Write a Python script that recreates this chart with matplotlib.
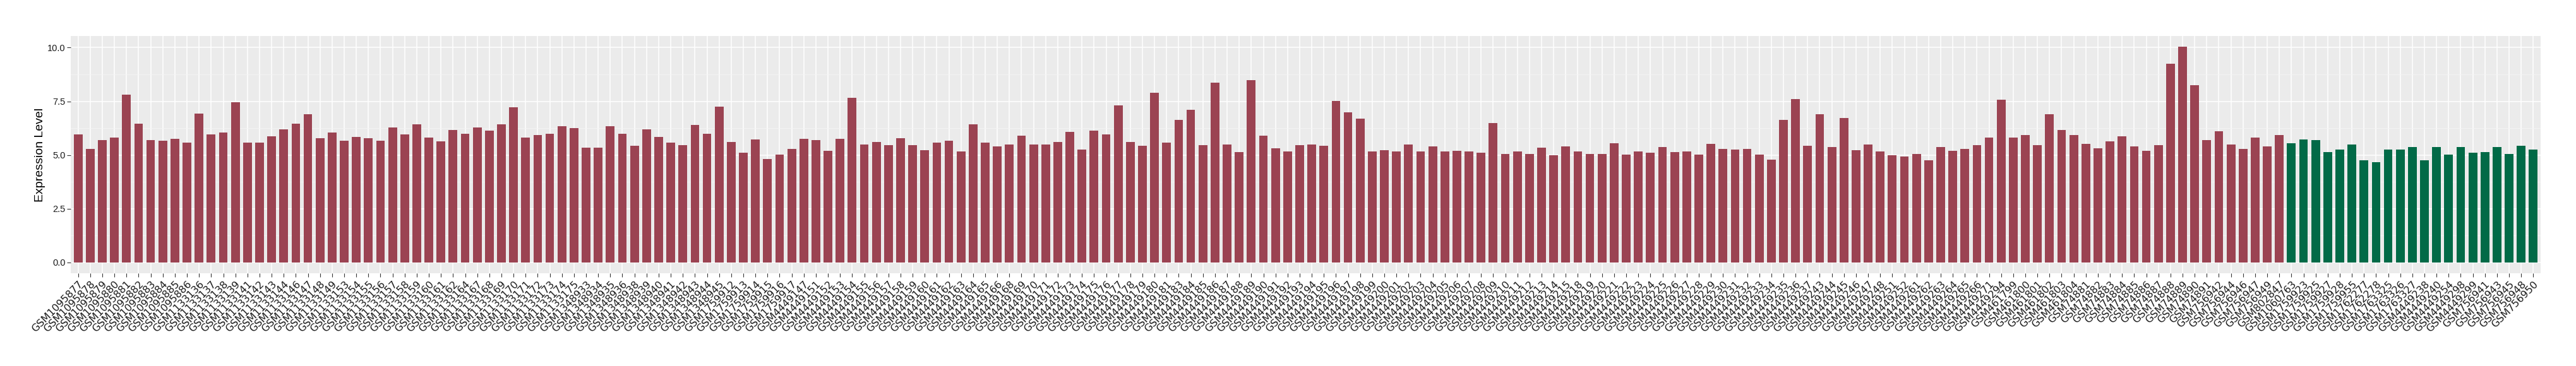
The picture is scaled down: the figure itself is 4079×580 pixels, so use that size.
import matplotlib
matplotlib.use("Agg")
import matplotlib.pyplot as plt
import numpy as np

# sample ids, tumour group first, then normal group
tumor_samples = [
    "GSM1095877", "GSM1095878", "GSM1095879", "GSM1095880", "GSM1095881", "GSM1095882",
    "GSM1095883", "GSM1095884", "GSM1095885", "GSM1095886", "GSM1133136", "GSM1133137",
    "GSM1133138", "GSM1133139", "GSM1133141", "GSM1133142", "GSM1133143", "GSM1133144",
    "GSM1133146", "GSM1133147", "GSM1133148", "GSM1133149", "GSM1133153", "GSM1133154",
    "GSM1133155", "GSM1133156", "GSM1133157", "GSM1133158", "GSM1133159", "GSM1133160",
    "GSM1133161", "GSM1133162", "GSM1133164", "GSM1133167", "GSM1133168", "GSM1133169",
    "GSM1133170", "GSM1133171", "GSM1133172", "GSM1133173", "GSM1133174", "GSM1133175",
    "GSM1348933", "GSM1348934", "GSM1348935", "GSM1348936", "GSM1348938", "GSM1348939",
    "GSM1348940", "GSM1348941", "GSM1348942", "GSM1348943", "GSM1348944", "GSM1348945",
    "GSM1759912", "GSM1759913", "GSM1759914", "GSM1759915", "GSM1759916", "GSM1759917",
    "GSM4449147", "GSM4449151", "GSM4449152", "GSM4449153", "GSM4449154", "GSM4449155",
    "GSM4449156", "GSM4449157", "GSM4449158", "GSM4449159", "GSM4449160", "GSM4449161",
    "GSM4449162", "GSM4449163", "GSM4449164", "GSM4449165", "GSM4449166", "GSM4449168",
    "GSM4449169", "GSM4449170", "GSM4449171", "GSM4449172", "GSM4449173", "GSM4449174",
    "GSM4449175", "GSM4449176", "GSM4449177", "GSM4449178", "GSM4449179", "GSM4449180",
    "GSM4449181", "GSM4449183", "GSM4449184", "GSM4449185", "GSM4449186", "GSM4449187",
    "GSM4449188", "GSM4449189", "GSM4449190", "GSM4449191", "GSM4449192", "GSM4449193",
    "GSM4449194", "GSM4449195", "GSM4449196", "GSM4449197", "GSM4449198", "GSM4449199",
    "GSM4449200", "GSM4449201", "GSM4449202", "GSM4449203", "GSM4449204", "GSM4449205",
    "GSM4449206", "GSM4449207", "GSM4449208", "GSM4449209", "GSM4449210", "GSM4449211",
    "GSM4449212", "GSM4449213", "GSM4449214", "GSM4449215", "GSM4449218", "GSM4449219",
    "GSM4449220", "GSM4449221", "GSM4449222", "GSM4449223", "GSM4449224", "GSM4449225",
    "GSM4449226", "GSM4449227", "GSM4449228", "GSM4449229", "GSM4449230", "GSM4449231",
    "GSM4449232", "GSM4449233", "GSM4449234", "GSM4449235", "GSM4449236", "GSM4449237",
    "GSM4449243", "GSM4449244", "GSM4449245", "GSM4449246", "GSM4449247", "GSM4449248",
    "GSM4449251", "GSM4449252", "GSM4449261", "GSM4449262", "GSM4449263", "GSM4449264",
    "GSM4449265", "GSM4449266", "GSM4449271", "GSM4449294", "GSM461799", "GSM461800",
    "GSM461801", "GSM461802", "GSM461803", "GSM461804", "GSM74881", "GSM74882",
    "GSM74883", "GSM74884", "GSM74885", "GSM74886", "GSM74887", "GSM74888",
    "GSM74889", "GSM74890", "GSM74891", "GSM756942", "GSM756944", "GSM756946",
    "GSM756947", "GSM756949", "GSM802847",
]
tumor_expr = [
    5.96, 5.29, 5.70, 5.82, 7.81, 6.46, 5.70, 5.67, 5.75, 5.58,
    6.93, 5.96, 6.05, 7.46, 5.58, 5.58, 5.87, 6.20, 6.46, 6.91,
    5.79, 6.05, 5.67, 5.84, 5.79, 5.67, 6.29, 5.96, 6.43, 5.82,
    5.64, 6.17, 5.99, 6.29, 6.13, 6.43, 7.22, 5.82, 5.93, 5.99,
    6.34, 6.25, 5.34, 5.34, 6.34, 5.99, 5.44, 6.20, 5.84, 5.58,
    5.46, 6.41, 5.99, 7.25, 5.61, 5.11, 5.73, 4.82, 5.03, 5.29,
    5.75, 5.70, 5.20, 5.75, 7.67, 5.49, 5.61, 5.46, 5.79, 5.46,
    5.23, 5.58, 5.67, 5.17, 6.43, 5.58, 5.41, 5.49, 5.91, 5.49,
    5.49, 5.61, 6.08, 5.26, 6.13, 5.96, 7.32, 5.61, 5.44, 7.90,
    5.58, 6.63, 7.11, 5.46, 8.37, 5.49, 5.14, 8.49, 5.91, 5.32,
    5.17, 5.46, 5.49, 5.44, 7.51, 6.99, 6.70, 5.17, 5.23, 5.17,
    5.49, 5.17, 5.41, 5.17, 5.20, 5.17, 5.11, 6.49, 5.05, 5.17,
    5.05, 5.34, 4.99, 5.41, 5.17, 5.05, 5.05, 5.55, 5.03, 5.17,
    5.11, 5.37, 5.14, 5.17, 5.03, 5.53, 5.29, 5.26, 5.29, 5.03,
    4.79, 6.63, 7.61, 5.44, 6.91, 5.37, 6.72, 5.23, 5.49, 5.17,
    4.99, 4.94, 5.05, 4.76, 5.37, 5.20, 5.29, 5.46, 5.82, 7.58,
    5.82, 5.93, 5.46, 6.91, 6.17, 5.93, 5.53, 5.32, 5.64, 5.87,
    5.41, 5.20, 5.46, 9.25, 10.04, 8.25, 5.70, 6.11, 5.49, 5.29,
    5.82, 5.41, 5.93,
]
normal_samples = [
    "GSM1060763", "GSM1759923", "GSM1759925", "GSM1759927", "GSM1759928", "GSM1759955",
    "GSM1762277", "GSM1762278", "GSM1763325", "GSM1763326", "GSM1763327", "GSM4449238",
    "GSM4449240", "GSM4449254", "GSM4449298", "GSM4449299", "GSM756941", "GSM756943",
    "GSM756945", "GSM756948", "GSM756950",
]
normal_expr = [
    5.55, 5.73, 5.70, 5.14, 5.26, 5.49, 4.76, 4.67, 5.26, 5.26,
    5.37, 4.76, 5.37, 5.03, 5.37, 5.11, 5.14, 5.37, 5.05, 5.44, 5.26,
]

tumor_color = "#9B4352"
normal_color = "#016A47"

samples = tumor_samples + normal_samples
expr = tumor_expr + normal_expr
colors = [tumor_color] * len(tumor_samples) + [normal_color] * len(normal_samples)
x = np.arange(len(samples))

fig = plt.figure(figsize=(40.8, 5.8), dpi=100)
ax = fig.add_axes([0.0275, 0.2534, 0.9585, 0.6483])

ax.set_facecolor("#EBEBEB")
for s in ax.spines.values():
    s.set_visible(False)

ax.bar(x, expr, width=0.72, color=colors, zorder=3)

ymax = max(expr)
pad = 0.05 * ymax
ax.set_ylim(-pad, ymax + pad)
ax.set_xlim(-0.6, len(samples) - 1 + 0.6)

ax.set_yticks([0, 2.5, 5, 7.5, 10])
ax.set_yticklabels(["0.0", "2.5", "5.0", "7.5", "10.0"])
ax.set_yticks([1.25, 3.75, 6.25, 8.75], minor=True)
ax.set_xticks(x)
ax.set_xticklabels(samples, rotation=45, ha="right", va="top",
                   rotation_mode="anchor", fontsize=11.5, color="#1a1a1a",
                   family="DejaVu Sans")

ax.grid(which="major", color="white", linewidth=1.1, zorder=0)
ax.grid(which="minor", axis="y", color="#F5F5F5", linewidth=0.6, zorder=0)
ax.set_axisbelow(True)

ax.tick_params(axis="both", which="major", length=4, width=0.8, color="#333333")
ax.tick_params(axis="y", which="major", labelsize=10.5, labelcolor="#1a1a1a", pad=2)
ax.tick_params(axis="x", which="major", pad=3)
ax.tick_params(which="minor", length=0)
for lab in ax.get_yticklabels():
    lab.set_family("Liberation Sans")

ax.set_ylabel("Expression Level", fontsize=14, family="Liberation Sans", labelpad=2)

fig.savefig("out.png", dpi=100)
